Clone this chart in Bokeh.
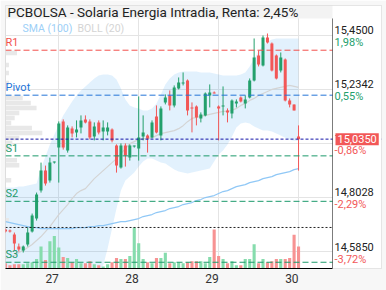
from bokeh.plotting import figure
from bokeh.models import Range1d, Span, Label, BoxAnnotation, FixedTicker, Grid
from bokeh.embed import file_html
from bokeh.resources import INLINE

# ---------------- data (30-min bars + closing auction, Solaria) ----------------
opens = [14.673, 14.669, 14.653, 14.605, 14.589, 14.613, 14.665, 14.717, 14.829, 14.909,
         14.869, 14.941, 15.001, 15.106, 14.989, 15.078, 15.062, 15.082, 15.114, 15.106,
         15.046, 15.102, 15.066, 15.066, 15.074, 15.009, 14.921, 15.009, 14.961, 15.005,
         14.997, 15.046, 15.050, 15.042, 15.126, 15.050, 15.182, 15.210, 15.170, 15.238,
         15.258, 15.270, 15.162, 15.166, 15.118, 15.130, 15.210, 15.222, 15.166, 15.166,
         15.150, 15.138, 15.178, 15.202, 15.178, 15.202, 15.270, 15.370, 15.330, 15.442,
         15.418, 15.370, 15.310, 15.354, 15.190, 15.174, 15.046]
highs = [14.677, 14.673, 14.661, 14.617, 14.609, 14.681, 14.737, 14.821, 14.941, 14.929,
         14.961, 14.945, 15.106, 15.114, 15.090, 15.086, 15.110, 15.130, 15.130, 15.114,
         15.102, 15.110, 15.110, 15.102, 15.078, 15.014, 15.018, 15.018, 15.014, 15.009,
         15.206, 15.130, 15.054, 15.110, 15.170, 15.166, 15.214, 15.230, 15.250, 15.282,
         15.302, 15.274, 15.182, 15.170, 15.142, 15.222, 15.254, 15.226, 15.170, 15.246,
         15.158, 15.194, 15.194, 15.206, 15.210, 15.278, 15.438, 15.390, 15.450, 15.458,
         15.422, 15.374, 15.382, 15.358, 15.198, 15.174, 15.090]
lows = [14.661, 14.661, 14.589, 14.585, 14.581, 14.605, 14.661, 14.709, 14.821, 14.849,
        14.861, 14.937, 14.861, 14.993, 14.981, 15.042, 15.042, 15.058, 15.098, 15.034,
        15.030, 15.054, 15.030, 15.050, 15.022, 14.901, 14.917, 14.925, 14.949, 15.001,
        14.949, 15.030, 14.981, 15.038, 15.058, 15.030, 15.174, 15.150, 15.162, 15.234,
        15.250, 15.130, 15.062, 15.090, 15.102, 15.126, 15.162, 15.218, 15.030, 15.130,
        15.102, 15.118, 15.162, 15.182, 15.158, 15.198, 15.266, 15.326, 15.326, 15.418,
        15.306, 15.274, 15.302, 15.186, 15.162, 15.150, 14.909]
closes = [14.665, 14.665, 14.617, 14.593, 14.605, 14.661, 14.729, 14.813, 14.909, 14.857,
          14.941, 14.945, 15.098, 15.001, 15.082, 15.058, 15.074, 15.110, 15.102, 15.042,
          15.086, 15.062, 15.082, 15.082, 15.030, 14.929, 15.009, 14.969, 15.009, 15.009,
          15.042, 15.062, 15.038, 15.102, 15.062, 15.158, 15.202, 15.170, 15.242, 15.262,
          15.262, 15.150, 15.158, 15.122, 15.134, 15.218, 15.222, 15.218, 15.158, 15.170,
          15.142, 15.190, 15.186, 15.186, 15.194, 15.270, 15.362, 15.334, 15.442, 15.422,
          15.310, 15.278, 15.362, 15.190, 15.174, 15.150, 15.035]
volume_k = [5, 3, 4, 4, 4, 5, 6, 9, 21, 8,
            26, 31, 20, 11, 10, 6, 9, 5, 5, 7,
            4, 3, 2, 4, 6, 10, 9, 9, 12, 39,
            24, 9, 6, 5, 10, 10, 15, 5, 6, 6,
            5, 6, 7, 7, 7, 5, 11, 37, 12, 9,
            5, 7, 3, 3, 9, 9, 23, 5, 9, 6,
            7, 9, 9, 9, 10, 32, 21]
sma100 = [14.705, 14.701, 14.697, 14.693, 14.689, 14.685, 14.681, 14.681, 14.677, 14.677,
          14.677, 14.677, 14.677, 14.677, 14.677, 14.677, 14.681, 14.681, 14.681, 14.685,
          14.685, 14.689, 14.689, 14.693, 14.697, 14.701, 14.705, 14.705, 14.709, 14.713,
          14.717, 14.725, 14.729, 14.733, 14.741, 14.745, 14.749, 14.757, 14.761, 14.765,
          14.773, 14.777, 14.781, 14.789, 14.793, 14.801, 14.805, 14.809, 14.817, 14.825,
          14.829, 14.837, 14.845, 14.849, 14.853, 14.861, 14.865, 14.869, 14.877, 14.881,
          14.885, 14.893, 14.897, 14.901, 14.905, 14.913, 14.917]
boll_upper = [14.841, 14.841, 14.841, 14.845, 14.845, 14.849, 14.853, 14.857, 14.917, 14.965,
              15.013, 15.053, 15.093, 15.130, 15.158, 15.186, 15.210, 15.230, 15.246, 15.262,
              15.278, 15.290, 15.294, 15.294, 15.290, 15.274, 15.238, 15.194, 15.170, 15.162,
              15.158, 15.150, 15.150, 15.158, 15.178, 15.214, 15.254, 15.278, 15.294, 15.302,
              15.306, 15.306, 15.306, 15.306, 15.302, 15.302, 15.302, 15.298, 15.294, 15.290,
              15.290, 15.290, 15.290, 15.294, 15.302, 15.326, 15.358, 15.386, 15.410, 15.426,
              15.434, 15.438, 15.438, 15.438, 15.438, 15.438, 15.438]
boll_mid = [14.557, 14.561, 14.569, 14.581, 14.589, 14.601, 14.613, 14.629, 14.645, 14.665,
            14.685, 14.709, 14.733, 14.753, 14.773, 14.797, 14.817, 14.829, 14.837, 14.857,
            14.877, 14.893, 14.909, 14.925, 14.941, 14.957, 14.977, 14.997, 15.017, 15.025,
            15.033, 15.037, 15.037, 15.041, 15.049, 15.057, 15.061, 15.065, 15.069, 15.077,
            15.089, 15.105, 15.118, 15.122, 15.126, 15.130, 15.134, 15.138, 15.142, 15.146,
            15.146, 15.150, 15.158, 15.170, 15.178, 15.190, 15.198, 15.210, 15.218, 15.226,
            15.234, 15.238, 15.242, 15.246, 15.250, 15.246, 15.242]
boll_lower = [14.470, 14.460, 14.450, 14.440, 14.430, 14.430, 14.420, 14.420, 14.410, 14.410,
              14.400, 14.400, 14.400, 14.410, 14.410, 14.420, 14.430, 14.440, 14.450, 14.460,
              14.469, 14.501, 14.529, 14.597, 14.677, 14.757, 14.829, 14.869, 14.885, 14.901,
              14.925, 14.945, 14.957, 14.957, 14.949, 14.941, 14.937, 14.925, 14.913, 14.905,
              14.901, 14.897, 14.901, 14.905, 14.909, 14.913, 14.917, 14.945, 14.973, 14.989,
              15.013, 15.045, 15.082, 15.098, 15.102, 15.098, 15.086, 15.078, 15.070, 15.070,
              15.066, 15.058, 15.050, 15.041, 15.033, 15.029, 15.029]
# volume at price (left profile)
vp_price = [15.380, 15.332, 15.300, 15.260, 15.200, 15.180, 15.160, 15.140, 15.120, 15.100,
            15.080, 15.060, 15.040, 15.020, 15.000, 14.950, 14.930, 14.870, 14.710]
vp_size = [10, 3, 3, 3, 15, 22, 27, 12, 8, 5, 23, 32, 12, 6, 4, 10, 12, 5, 3]

day_labels = ["27", "28", "29", "30"]
day_label_pos = [10.5, 28.5, 46.5, 64.5]
day_starts = [12, 30, 48, 66]

grid_prices = [15.4500, 15.2342, 15.0185, 14.8028, 14.5850]
grid_price_text = ["15,4500", "15,2342", "15,0185", "14,8028", "14,5850"]
grid_pct_text = ["1,98%", "0,55%", "-0,86%", "-2,29%", "-3,72%"]
last_price = 15.035
last_price_text = "15,0350"

pivot_names = ["R1", "Pivot", "S1", "S2", "S3"]
pivot_values = [15.391, 15.211, 14.968, 14.786, 14.542]

title_text = "PCBOLSA - Solaria Energia Intradia, Renta: 2,45%"

# ---------------- styling ----------------
GREEN = "#23a06c"
RED = "#f25757"
VGREEN = "#86dcad"
VRED = "#f79393"
PIVOT_COLORS = ["#f2504b", "#2474d8", "#1c9a6b", "#1c9a6b", "#1c9a6b"]
FONT = "Roboto"

n = len(opens)
idx = list(range(n))
is_up = [c >= o for o, c in zip(opens, closes)]
colors = [GREEN if u else RED for u in is_up]
vcolors = [VGREEN if u else VRED for u in is_up]
body_lo = [min(o, c) for o, c in zip(opens, closes)]
body_hi = [max(o, c) for o, c in zip(opens, closes)]

# plot area: x 5..332 px, y 18..268 px ; the frame also holds the title band and price column
X0, XP = 0.0, 73.65          # bar-index range of the price area
Y0, YP = 14.517, 15.518      # price range of the price area
PXX = (XP - X0) / 327.0
PXY = (YP - Y0) / 250.0
XR = XP + 49 * PXX           # right end of price-label column
YT = YP + 13 * PXY           # top of title band

p = figure(width=386, height=290, x_range=Range1d(X0, XR), y_range=Range1d(Y0, YT),
           output_backend="svg", toolbar_location=None, y_axis_location=None,
           min_border_left=5, min_border_right=5, min_border_top=5, min_border_bottom=22,
           background_fill_color="white", border_fill_color="#f7f7f7",
           outline_line_color="#dddddd")
p.grid.visible = False
p.extra_y_ranges = {"vol": Range1d(0, 250)}
p.extra_x_ranges = {"vp": Range1d(0, 327)}

ax = p.xaxis[0]
ax.ticker = FixedTicker(ticks=day_label_pos)
ax.bounds = (X0, XP)
ax.major_label_overrides = {pos: lab for pos, lab in zip(day_label_pos, day_labels)}
ax.major_tick_line_color = None
ax.minor_tick_line_color = None
ax.major_tick_out = 0
ax.major_tick_in = 0
ax.axis_line_color = "black"
ax.major_label_text_font = FONT
ax.major_label_text_font_size = "12px"
ax.major_label_text_color = "#333333"
ax.major_label_standoff = 5

vg = Grid(dimension=0, ticker=FixedTicker(ticks=day_starts), grid_line_color="#e4e4e4")
hg = Grid(dimension=1, ticker=FixedTicker(ticks=grid_prices), grid_line_color="#e4e4e4")
p.center.extend([vg, hg])

# bollinger band fill
p.varea(x=idx, y1=boll_lower, y2=boll_upper, fill_color="#2196f3", fill_alpha=0.13)
# volume profile
p.hbar(y=vp_price, left=0, right=vp_size, height=0.018, x_range_name="vp",
       fill_color="#e8e8e8", line_color=None)
# volume
p.vbar(x=idx, bottom=0, top=volume_k, width=0.7, y_range_name="vol",
       fill_color=vcolors, line_color=None)
# indicator lines
p.line(idx, boll_mid, line_color="#d4d4d4", line_width=1.2)
p.line(idx, sma100, line_color="#90c8f6", line_width=1.2)
# candles
p.segment(x0=idx, y0=lows, x1=idx, y1=highs, line_color=colors, line_width=1)
p.vbar(x=idx, bottom=body_lo, top=body_hi, width=0.68, fill_color=colors, line_color=None)

# pivot levels
for name, val, col in zip(pivot_names, pivot_values, PIVOT_COLORS):
    p.add_layout(Span(location=val, dimension="width", line_color=col,
                      line_dash="6 3", line_width=1))
    p.add_layout(Label(x=X0, y=val, text=name, text_color=col, text_font=FONT,
                       text_font_size="11px", text_baseline="bottom", x_offset=0, y_offset=1))

# last price line and max-volume line
p.add_layout(Span(location=last_price, dimension="width", line_color="#1414a8",
                  line_dash="3 2", line_width=1))
p.add_layout(Span(location=max(volume_k), dimension="width", y_range_name="vol",
                  line_color="#222222", line_dash="2 2", line_width=1))

# price column (white), title band and right border line of the price area
p.add_layout(BoxAnnotation(left=XP, right=None, top=None, bottom=None,
                           fill_color="white", fill_alpha=1.0, line_color=None, level="overlay"))
p.add_layout(BoxAnnotation(left=None, right=XP, top=None, bottom=YP,
                           fill_color="#f3f3f3", fill_alpha=1.0, line_color=None, level="overlay"))
p.add_layout(BoxAnnotation(left=XP, right=XP, top=YP, bottom=None, fill_color=None,
                           line_color="black", line_width=1, level="overlay"))

# right-hand price / percent labels
for gp, gt, pt in zip(grid_prices, grid_price_text, grid_pct_text):
    pc = RED if pt.startswith("-") else GREEN
    p.add_layout(Label(x=XP, y=gp, x_offset=2, y_offset=1, text=gt, text_baseline="bottom",
                       text_color="#222222", text_font=FONT, text_font_size="11px",
                       level="overlay"))
    p.add_layout(Label(x=XP, y=gp, x_offset=2, y_offset=-1, text=pt, text_baseline="top",
                       text_color=pc, text_font=FONT, text_font_size="11px", level="overlay"))
p.add_layout(Label(x=XP, y=last_price, x_offset=3, text=last_price_text,
                   text_baseline="middle", text_color="white", text_font=FONT,
                   text_font_size="11px", background_fill_color=RED, padding=2,
                   level="overlay"))

# title and legend
p.add_layout(Label(x=X0, y=YP + 6.5 * PXY, x_offset=2, text=title_text, text_baseline="middle",
                   text_color="#222222", text_font=FONT, text_font_size="13.5px",
                   level="overlay"))
p.add_layout(Label(x=X0 + 17 * PXX, y=YP - 10 * PXY, text="SMA (100)", text_baseline="middle",
                   text_color="#9dcff7", text_font=FONT, text_font_size="10.5px"))
p.add_layout(Label(x=X0 + 72 * PXX, y=YP - 10 * PXY, text="BOLL (20)", text_baseline="middle",
                   text_color="#d4d4d4", text_font=FONT, text_font_size="10.5px"))

open("out.html", "w").write(file_html(p, INLINE))
